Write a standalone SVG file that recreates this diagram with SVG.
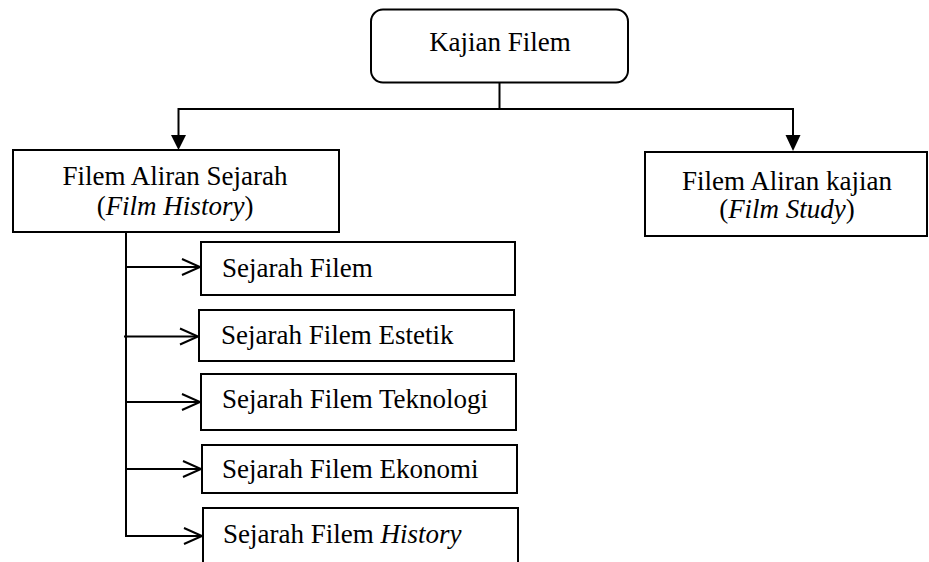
<svg xmlns="http://www.w3.org/2000/svg" width="929" height="562" viewBox="0 0 929 562">
<style>
.box{fill:#fff;stroke:#000;stroke-width:2}
.t{font-family:"Liberation Serif","Times New Roman",serif;fill:#000;font-size:27px}
.c{stroke:#000;stroke-width:2;fill:none}
.ah{fill:#000;stroke:none}
</style>
<rect width="929" height="562" fill="#fff"/>
<g id="connectors">
<line class="c" x1="499.5" y1="82" x2="499.5" y2="109"/>
<line class="c" x1="178.5" y1="109" x2="793" y2="109"/>
<line class="c" x1="178.5" y1="108" x2="178.5" y2="137"/>
<polygon class="ah" points="171,135 186,135 178.5,150"/>
<line class="c" x1="793" y1="108" x2="793" y2="137"/>
<polygon class="ah" points="785.5,135 800.5,135 793,151"/>
<line class="c" x1="126" y1="232" x2="126" y2="537"/>
<line class="c" x1="126" y1="267" x2="199" y2="267"/>
<path class="c" d="M182,259 L200,267 L182,275"/>
<line class="c" x1="124" y1="336.5" x2="197" y2="336.5"/>
<path class="c" d="M180,328.5 L198,336.5 L180,344.5"/>
<line class="c" x1="126" y1="402" x2="199" y2="402"/>
<path class="c" d="M182,394 L200,402 L182,410"/>
<line class="c" x1="126" y1="469" x2="200" y2="469"/>
<path class="c" d="M183,461 L201,469 L183,477"/>
<line class="c" x1="126" y1="536" x2="201" y2="536"/>
<path class="c" d="M184,528 L202,536 L184,544"/>
</g>
<g id="kajian-filem">
<rect class="box" x="371" y="9.5" width="257" height="73" rx="12"/>
<text class="t" x="500" y="51" text-anchor="middle" font-size="29">Kajian Filem</text>
</g>
<g id="film-history">
<rect class="box" x="13" y="150" width="326" height="82"/>
<text class="t" x="175" y="185" text-anchor="middle">Filem Aliran Sejarah</text>
<text class="t" x="175" y="215" text-anchor="middle">(<tspan font-style="italic">Film History</tspan>)</text>
</g>
<g id="film-study">
<rect class="box" x="645" y="152" width="282" height="84"/>
<text class="t" x="787" y="190" text-anchor="middle">Filem Aliran kajian</text>
<text class="t" x="787" y="218" text-anchor="middle">(<tspan font-style="italic">Film Study</tspan>)</text>
</g>
<g id="sejarah-filem">
<rect class="box" x="201" y="242" width="314" height="53"/>
<text class="t" x="222" y="277">Sejarah Filem</text>
</g>
<g id="sejarah-filem-estetik">
<rect class="box" x="199" y="310" width="315" height="51"/>
<text class="t" x="221" y="344">Sejarah Filem Estetik</text>
</g>
<g id="sejarah-filem-teknologi">
<rect class="box" x="201" y="374" width="315" height="56"/>
<text class="t" x="222" y="408">Sejarah Filem Teknologi</text>
</g>
<g id="sejarah-filem-ekonomi">
<rect class="box" x="202" y="445" width="315" height="48"/>
<text class="t" x="222" y="478">Sejarah Filem Ekonomi</text>
</g>
<g id="sejarah-filem-history">
<rect class="box" x="203" y="508" width="315" height="62"/>
<text class="t" x="223" y="543">Sejarah Filem <tspan font-style="italic">History</tspan></text>
</g>
</svg>
